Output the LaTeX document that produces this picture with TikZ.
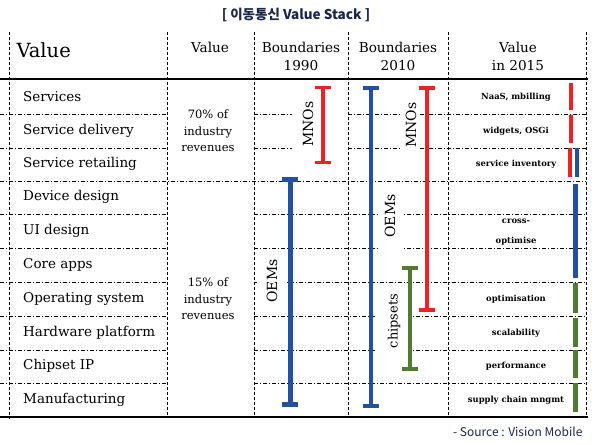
\documentclass[tikz,border=0pt]{standalone}
\usepackage{fontspec}
\setmainfont{DejaVu Serif}
\newfontfamily\krfont{Noto Sans CJK KR}
\usetikzlibrary{arrows.meta}
\definecolor{mnored}{RGB}{234,36,38}
\definecolor{oemblue}{RGB}{36,80,160}
\definecolor{chipgreen}{RGB}{82,122,52}
\definecolor{notenavy}{RGB}{28,40,72}

\begin{document}
\begin{tikzpicture}[x=1pt, y=-1pt,
    rowline/.style={dash pattern=on 4pt off 2pt on 1pt off 2pt, line width=0.8pt},
    colline/.style={dash pattern=on 3pt off 2pt, line width=0.8pt},
    stackrow/.style={anchor=west, inner sep=0pt, font=\fontsize{13.5}{15}\selectfont},
    colhead/.style={align=center, font=\fontsize{13.6}{18}\selectfont},
    revshare/.style={align=center, font=\fontsize{11.5}{16.5}\selectfont},
    trend/.style={align=center, font=\bfseries\fontsize{8.4}{20}\selectfont},
    player/.style={rotate=90, fill=white, inner sep=1pt, font=\fontsize{14}{16}\selectfont},
    ibar/.style={line width=4pt, {Bar[width=16pt]}-{Bar[width=16pt]}},
    tick/.style={line width=4pt}]
    \useasboundingbox (0,0) rectangle (596,444);

    % title
    \node[font=\krfont\bfseries\fontsize{13.5}{15}\selectfont, text=notenavy] (title) at (296,15) {[ 이동통신 Value Stack ]};

    % table frame
    \draw[colline] (9,32) -- (9,419) (167,32) -- (167,417) (254,32) -- (254,417)
        (348,32) -- (348,417) (448,32) -- (448,417) (586,32) -- (586,417);
    \draw[rowline] (0,114) -- (167,114) (0,148) -- (167,148) (0,181) -- (586,181)
        (0,214) -- (167,214) (0,248) -- (167,248) (0,282) -- (167,282)
        (0,316) -- (167,316) (0,350) -- (167,350) (0,383) -- (167,383);
    \draw[rowline] (254,114) -- (292,114) (254,148) -- (292,148)
        (348,114) -- (586,114) (348,148) -- (586,148)
        (254,214) -- (586,214) (254,248) -- (586,248) (254,282) -- (586,282)
        (254,316) -- (586,316) (254,350) -- (586,350) (254,383) -- (586,383);
    \draw[line width=2.6pt] (0,79) -- (588,79);
    \draw[line width=1.2pt] (0,417) -- (588,417);

    % header
    \node[anchor=west, font=\fontsize{19.5}{22}\selectfont] (valuehead) at (13,50) {Value};
    \node[colhead] (valuecol) at (210,47) {Value};
    \node[colhead] (bound90) at (301,56) {Boundaries\\1990};
    \node[colhead] (bound10) at (398,56) {Boundaries\\2010};
    \node[colhead] (value15) at (518,56) {Value\\in 2015};

    % value stack layers
    \node[stackrow] (services) at (23,97) {Services};
    \node[stackrow] (svcdelivery) at (23,131) {Service delivery};
    \node[stackrow] (svcretail) at (23,164) {Service retailing};
    \node[stackrow] (devdesign) at (23,197) {Device design};
    \node[stackrow] (uidesign) at (23,231) {UI design};
    \node[stackrow] (coreapps) at (23,265) {Core apps};
    \node[stackrow] (opsys) at (23,299) {Operating system};
    \node[stackrow] (hwplatform) at (23,333) {Hardware platform};
    \node[stackrow] (chipip) at (23,366) {Chipset IP};
    \node[stackrow] (manufact) at (23,400) {Manufacturing};

    % share of revenues
    \node[revshare] (share70) at (208,131) {70\% of\\industry\\revenues};
    \node[revshare] (share15) at (208,299) {15\% of\\industry\\revenues};

    % value in 2015
    \node[trend] (naas) at (516,97) {NaaS, mbilling};
    \node[trend] (widgets) at (516,131) {widgets, OSGi};
    \node[trend] (inventory) at (516,164) {service inventory};
    \node[trend] (crossopt) at (516,232) {cross-\\optimise};
    \node[trend] (optimis) at (516,299) {optimisation};
    \node[trend] (scalab) at (516,333) {scalability};
    \node[trend] (perform) at (516,366) {performance};
    \node[trend] (supply) at (516,400) {supply chain mngmt};

    % player labels
    \node[player, minimum height=18pt] (mno90) at (308,124) {MNOs};
    \node[player, minimum height=30pt, minimum width=58pt] (oem90) at (272,281) {OEMs};
    \node[player, minimum height=24pt, minimum width=66pt] (oem10) at (390,216) {OEMs};
    \node[player, minimum height=18pt, minimum width=58pt] (mno10) at (411,125) {MNOs};
    \node[player, minimum height=34pt, minimum width=62pt, font=\fontsize{13}{15}\selectfont] (chip10) at (394,321) {chipsets};

    % boundaries
    \coordinate (mno90top) at (323,86);
    \coordinate (mno90bot) at (323,164);
    \coordinate (oem90top) at (290,177);
    \coordinate (oem90bot) at (290,407);
    \coordinate (oem10top) at (371,86);
    \coordinate (oem10bot) at (371,408);
    \coordinate (mno10top) at (427,86);
    \coordinate (mno10bot) at (427,312);
    \coordinate (chip10top) at (410,266);
    \coordinate (chip10bot) at (410,371);
    \draw[ibar, mnored, line width=3.3pt] (mno90top) -- (mno90bot);
    \draw[ibar, oemblue, line width=5pt] (oem90top) -- (oem90bot);
    \draw[ibar, oemblue] (oem10top) -- (oem10bot);
    \draw[ibar, mnored] (mno10top) -- (mno10bot);
    \draw[ibar, chipgreen] (chip10top) -- (chip10bot);

    % 2015 markers
    \draw[tick, mnored, line width=3.3pt] (571,83) -- (571,110) (571,115) -- (571,143) (570,148) -- (570,177);
    \draw[tick, oemblue] (577,148) -- (577,177);
    \draw[tick, oemblue, line width=4.7pt] (575.5,184) -- (575.5,278);
    \draw[tick, chipgreen, line width=4.7pt] (575.5,283) -- (575.5,313) (575.5,318) -- (575.5,347)
        (575.5,350) -- (575.5,378) (575.5,383) -- (575.5,412);

    \node[anchor=east, font=\krfont\fontsize{12}{14}\selectfont, text=notenavy] (source) at (586,432) {- Source : Vision Mobile};
\end{tikzpicture}
\end{document}
